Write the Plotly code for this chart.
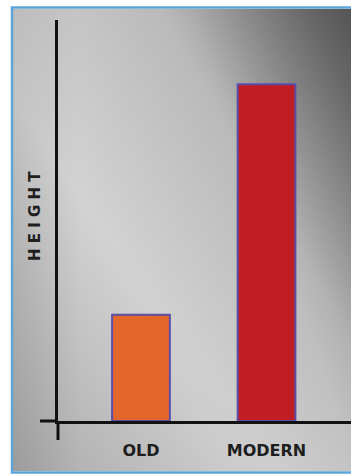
import base64
import plotly.graph_objects as go

categories = ["OLD", "MODERN"]
heights = [26.5, 84]
bar_colors = ["#e3672a", "#c01d24"]
y_title = "H E I G H T"

W, H = 351, 475

def px(x):
    return x / W

def py(y):
    return 1 - y / H

svg = f"""<svg xmlns='http://www.w3.org/2000/svg' width='338' height='462' viewBox='0 0 338 462' preserveAspectRatio='none'>
<defs>
<linearGradient id='tr' x1='1' y1='0' x2='0.3' y2='0.55'>
<stop offset='0' stop-color='#000' stop-opacity='0.52'/>
<stop offset='0.5' stop-color='#000' stop-opacity='0.12'/>
<stop offset='1' stop-color='#000' stop-opacity='0'/>
</linearGradient>
<linearGradient id='rt' x1='1' y1='0.2' x2='0.7' y2='0.35'>
<stop offset='0' stop-color='#000' stop-opacity='0.16'/>
<stop offset='1' stop-color='#000' stop-opacity='0'/>
</linearGradient>
<linearGradient id='bl' x1='0' y1='1' x2='0.4' y2='0.6'>
<stop offset='0' stop-color='#000' stop-opacity='0.2'/>
<stop offset='1' stop-color='#000' stop-opacity='0'/>
</linearGradient>
<linearGradient id='lf' x1='0' y1='0' x2='1' y2='0'>
<stop offset='0' stop-color='#000' stop-opacity='0.08'/>
<stop offset='0.2' stop-color='#000' stop-opacity='0'/>
</linearGradient>
</defs>
<rect width='338' height='462' fill='#d3d3d3'/>
<rect width='338' height='462' fill='url(#lf)'/>
<rect width='338' height='462' fill='url(#rt)'/>
<rect width='338' height='462' fill='url(#tr)'/>
<rect width='338' height='462' fill='url(#bl)'/>
</svg>"""
src = "data:image/svg+xml;base64," + base64.b64encode(svg.encode()).decode()

fig = go.Figure()
fig.add_trace(go.Bar(
    x=categories, y=heights, width=0.46,
    marker=dict(color=bar_colors, line=dict(color="#5a4ea6", width=2)),
    showlegend=False, hoverinfo="skip",
))

x_dom = [px(58), 1.0]
y_dom = [py(421), py(20)]

fig.update_layout(
    width=W, height=H,
    margin=dict(l=0, r=0, t=0, b=0),
    paper_bgcolor="white",
    plot_bgcolor="rgba(0,0,0,0)",
    xaxis=dict(
        domain=x_dom, range=[-0.661, 1.673], type="category",
        showgrid=False, zeroline=False, showline=True, linecolor="#111111", linewidth=3,
        ticks="", ticklabelstandoff=13,
        tickfont=dict(family="DejaVu Sans", size=16, color="#1e1e1e", weight="bold"),
        fixedrange=True,
    ),
    yaxis=dict(
        domain=y_dom, range=[0, 100],
        showgrid=False, zeroline=False, showline=True, linecolor="#111111", linewidth=3,
        showticklabels=False, ticks="", fixedrange=True,
    ),
    images=[dict(
        source=src, xref="paper", yref="paper",
        x=px(13), y=py(9), sizex=px(338), sizey=462 / H,
        xanchor="left", yanchor="top", sizing="stretch", layer="below",
    )],
    shapes=[
        dict(type="rect", xref="paper", yref="paper",
             x0=px(12), x1=px(353), y0=py(472.5), y1=py(7.5),
             line=dict(color="#5ea4d8", width=2.5), fillcolor="rgba(0,0,0,0)", layer="below"),
        dict(type="line", xref="paper", yref="paper",
             x0=px(40), x1=px(58), y0=py(421), y1=py(421),
             line=dict(color="#111111", width=3)),
        dict(type="line", xref="paper", yref="paper",
             x0=px(58), x1=px(58), y0=py(421), y1=py(440),
             line=dict(color="#111111", width=3)),
    ],
    annotations=[dict(
        text=y_title, xref="paper", yref="paper", x=px(35), y=py(216),
        textangle=-90, showarrow=False, xanchor="center", yanchor="middle",
        font=dict(family="DejaVu Sans", size=15, color="#1e1e1e", weight="bold"),
    )],
)

fig.write_html("out.html")
